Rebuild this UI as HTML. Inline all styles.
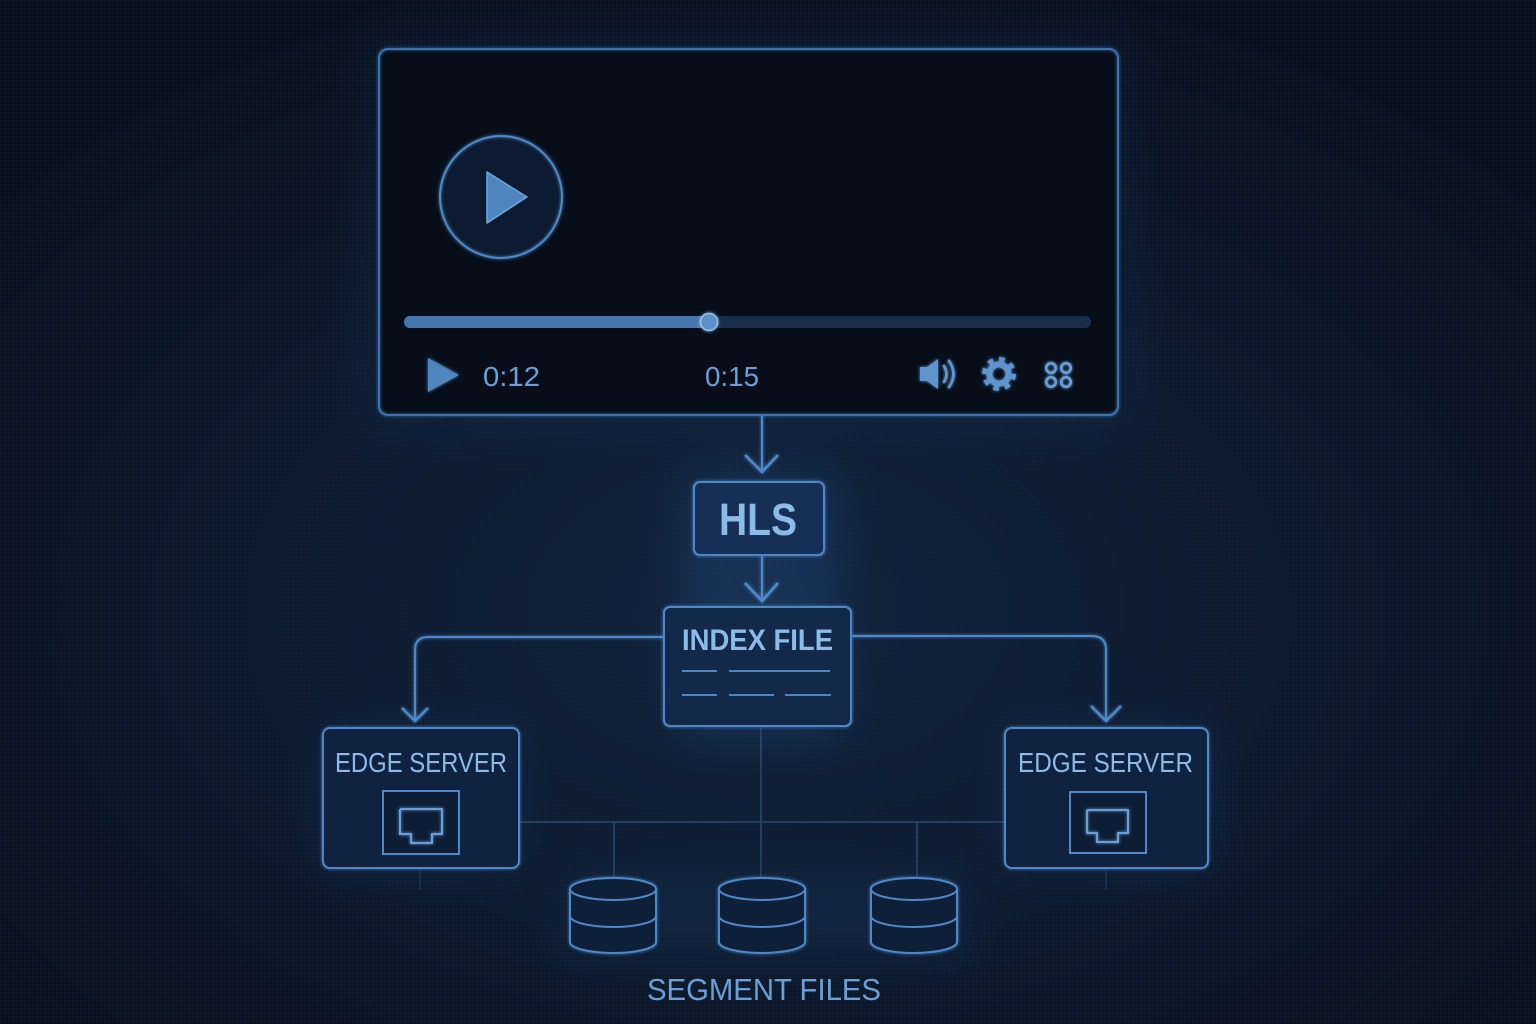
<!DOCTYPE html>
<html>
<head>
<meta charset="utf-8">
<style>
html,body{margin:0;padding:0;background:#0a1222;}
svg{display:block;}
text{font-family:"Liberation Sans","DejaVu Sans",sans-serif;}
</style>
</head>
<body>
<svg width="1536" height="1024" viewBox="0 0 1536 1024" xmlns="http://www.w3.org/2000/svg">
<defs>
  <radialGradient id="bg" cx="50%" cy="60%" r="65%">
    <stop offset="0" stop-color="#11233c"/>
    <stop offset="0.45" stop-color="#0d1b2f"/>
    <stop offset="1" stop-color="#080f1c"/>
  </radialGradient>
  <pattern id="dots" width="4" height="4" patternUnits="userSpaceOnUse">
    <rect x="0" y="0" width="2" height="2" fill="#1a2c48" opacity="0.25"/>
  </pattern>
  <filter id="glowS" x="-20%" y="-20%" width="140%" height="140%" color-interpolation-filters="sRGB">
    <feGaussianBlur stdDeviation="1.6" result="b"/>
    <feMerge><feMergeNode in="b"/><feMergeNode in="SourceGraphic"/></feMerge>
  </filter>
  <filter id="halo" x="-50%" y="-50%" width="200%" height="200%" color-interpolation-filters="sRGB">
    <feGaussianBlur stdDeviation="22"/>
  </filter>
</defs>

<rect width="1536" height="1024" fill="url(#bg)"/>
<rect width="1536" height="1024" fill="url(#dots)"/>

<!-- halos -->
<rect x="680" y="470" width="160" height="270" fill="#2b5c99" opacity="0.28" filter="url(#halo)"/>
<rect x="320" y="725" width="200" height="145" fill="#234d84" opacity="0.22" filter="url(#halo)"/>
<rect x="1005" y="725" width="205" height="145" fill="#234d84" opacity="0.22" filter="url(#halo)"/>
<rect x="560" y="870" width="410" height="90" fill="#234d84" opacity="0.18" filter="url(#halo)"/>
<rect x="375" y="45" width="745" height="375" fill="none" stroke="#2a5a96" stroke-width="10" opacity="0.35" filter="url(#halo)"/>

<!-- Video player box -->
<rect x="379" y="49" width="739" height="366" rx="9" fill="#070e1a"/>
<rect x="379" y="49" width="739" height="366" rx="9" fill="none" stroke="#3d72b0" stroke-width="2" filter="url(#glowS)"/>

<!-- big play circle -->
<circle cx="501" cy="197" r="61" fill="#0c1b31"/>
<circle cx="501" cy="197" r="61" fill="none" stroke="#4f88c6" stroke-width="2" filter="url(#glowS)"/>
<polygon points="487,172 487,223 527,197" fill="#4f86c0" stroke="#6fa5dc" stroke-width="1.5" stroke-linejoin="round"/>

<!-- progress bar -->
<rect x="404" y="316" width="687" height="12" rx="6" fill="#192e4b"/>
<rect x="404" y="316" width="305" height="12" rx="6" fill="#4577ad"/>
<circle cx="709" cy="322" r="8.5" fill="#5c90c8" stroke="#9cc4ec" stroke-width="1.5" filter="url(#glowS)"/>

<!-- controls -->
<polygon points="428,358 428,392 459,375" fill="#4f86c0" filter="url(#glowS)"/>
<text x="483" y="386" font-size="28" fill="#6d9fd4" textLength="57" lengthAdjust="spacingAndGlyphs">0:12</text>
<text x="705" y="386" font-size="28" fill="#6d9fd4" textLength="54" lengthAdjust="spacingAndGlyphs">0:15</text>

<!-- speaker -->
<g fill="#5f95cc" stroke="#5f95cc" filter="url(#glowS)">
  <polygon points="920,367 927,367 938,359 938,389 927,381 920,381" stroke="none"/>
  <path d="M944 366 Q949 374 944 382" fill="none" stroke-width="2.8" stroke-linecap="round"/>
  <path d="M949 361 Q958 374 949 387" fill="none" stroke-width="2.8" stroke-linecap="round"/>
</g>
<!-- gear -->
<g filter="url(#glowS)">
  <circle cx="999" cy="374" r="14.5" fill="none" stroke="#5f95cc" stroke-width="5" stroke-dasharray="5.4 6"/>
  <circle cx="999" cy="374" r="9.5" fill="none" stroke="#5f95cc" stroke-width="6"/>
</g>
<!-- four circles -->
<g fill="none" stroke="#6a9fd6" stroke-width="2.6" filter="url(#glowS)">
  <circle cx="1051" cy="368" r="4.8"/>
  <circle cx="1066" cy="368" r="4.8"/>
  <circle cx="1051" cy="382" r="4.8"/>
  <circle cx="1066" cy="382" r="4.8"/>
</g>

<!-- connectors -->
<g stroke="#4f88c6" stroke-width="2" fill="none" filter="url(#glowS)">
  <line x1="762" y1="416" x2="762" y2="472"/>
  <polyline points="745,455 762,472 778,455" stroke-width="2.5"/>
  <line x1="762" y1="555" x2="762" y2="601"/>
  <polyline points="745,583 762,601 778,583" stroke-width="2.5"/>
  <path d="M664 637 L428 637 Q415 637 415 650 L415 721"/>
  <polyline points="402,708 415,721 428,708" stroke-width="2.5"/>
  <path d="M851 636 L1092 636 Q1106 636 1106 650 L1106 721"/>
  <polyline points="1091,706 1106,721 1121,706" stroke-width="2.5"/>
</g>

<!-- faint grid lines -->
<g stroke="#2e5482" stroke-width="1.5" fill="none" opacity="0.8">
  <line x1="519" y1="822" x2="1005" y2="822"/>
  <line x1="761" y1="726" x2="761" y2="878"/>
  <line x1="614" y1="822" x2="614" y2="878"/>
  <line x1="917" y1="822" x2="917" y2="878"/>
</g>
<g stroke="#2a4d78" stroke-width="1.2" opacity="0.55">
  <line x1="420" y1="855" x2="420" y2="890"/>
  <line x1="1106" y1="855" x2="1106" y2="890"/>
  <line x1="1005" y1="822" x2="1070" y2="822"/>
  <line x1="459" y1="822" x2="519" y2="822"/>
</g>

<!-- HLS box -->
<rect x="694" y="482" width="130" height="73" rx="6" fill="#153054" stroke="#4f88c6" stroke-width="2" filter="url(#glowS)"/>
<text x="719" y="535" font-size="45" font-weight="bold" fill="#8cbbe8" textLength="78" lengthAdjust="spacingAndGlyphs">HLS</text>

<!-- Index file box -->
<rect x="664" y="607" width="187" height="119" rx="6" fill="#12294a" stroke="#4f88c6" stroke-width="2" filter="url(#glowS)"/>
<text x="682" y="650" font-size="30" font-weight="bold" fill="#8cbbe8" textLength="151" lengthAdjust="spacingAndGlyphs">INDEX FILE</text>
<g stroke="#4f86c0" stroke-width="2">
  <line x1="682" y1="671" x2="717" y2="671"/>
  <line x1="729" y1="671" x2="830" y2="671"/>
  <line x1="682" y1="695" x2="717" y2="695"/>
  <line x1="729" y1="695" x2="774" y2="695"/>
  <line x1="785" y1="695" x2="831" y2="695"/>
</g>

<!-- Edge server left -->
<rect x="323" y="728" width="196" height="140" rx="7" fill="#0f2240" stroke="#4f88c6" stroke-width="2" filter="url(#glowS)"/>
<text x="335" y="772" font-size="28" fill="#8cbbe8" textLength="172" lengthAdjust="spacingAndGlyphs">EDGE SERVER</text>
<rect x="383" y="791" width="76" height="63" fill="#0d1d36" stroke="#4f88c6" stroke-width="2"/>
<polyline points="400,809 442,809 442,834 432,834 432,843 411,843 411,834 400,834 400,809" fill="none" stroke="#6a9fd6" stroke-width="2" filter="url(#glowS)"/>

<!-- Edge server right -->
<rect x="1005" y="728" width="203" height="140" rx="7" fill="#0f2240" stroke="#4f88c6" stroke-width="2" filter="url(#glowS)"/>
<text x="1018" y="772" font-size="28" fill="#8cbbe8" textLength="175" lengthAdjust="spacingAndGlyphs">EDGE SERVER</text>
<rect x="1070" y="792" width="76" height="61" fill="#0d1d36" stroke="#4f88c6" stroke-width="2"/>
<polyline points="1087,810 1128,810 1128,833 1118,833 1118,842 1097,842 1097,833 1087,833 1087,810" fill="none" stroke="#6a9fd6" stroke-width="2" filter="url(#glowS)"/>

<!-- Cylinders -->
<g fill="#0e2039" stroke="#4f88c6" stroke-width="2" filter="url(#glowS)">
  <g transform="translate(613,0)">
    <path d="M-43 889 L-43 942 A43 11 0 0 0 43 942 L43 889"/>
    <ellipse cx="0" cy="889" rx="43" ry="11"/>
    <path d="M-43 916 A43 11 0 0 0 43 916" fill="none"/>
  </g>
  <g transform="translate(762,0)">
    <path d="M-43 889 L-43 942 A43 11 0 0 0 43 942 L43 889"/>
    <ellipse cx="0" cy="889" rx="43" ry="11"/>
    <path d="M-43 916 A43 11 0 0 0 43 916" fill="none"/>
  </g>
  <g transform="translate(914,0)">
    <path d="M-43 889 L-43 942 A43 11 0 0 0 43 942 L43 889"/>
    <ellipse cx="0" cy="889" rx="43" ry="11"/>
    <path d="M-43 916 A43 11 0 0 0 43 916" fill="none"/>
  </g>
</g>

<text x="647" y="1000" font-size="31" fill="#6d9fd4" textLength="234" lengthAdjust="spacingAndGlyphs">SEGMENT FILES</text>
</svg>
</body>
</html>
